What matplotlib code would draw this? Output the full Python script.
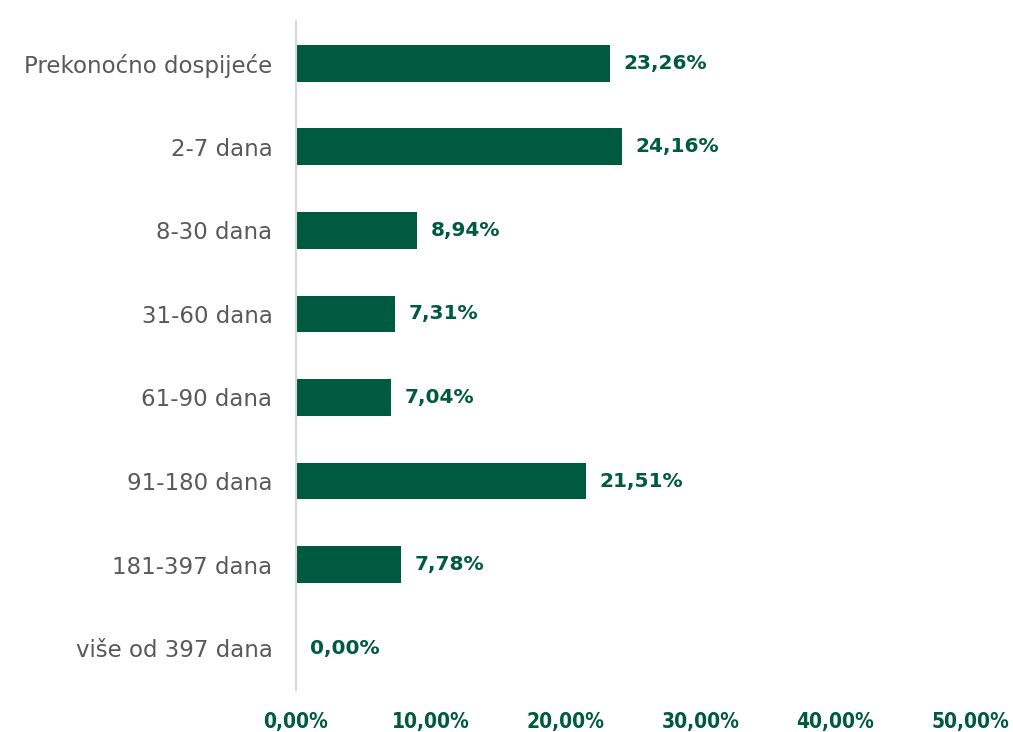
import matplotlib
matplotlib.use("Agg")
import matplotlib.pyplot as plt
from matplotlib.ticker import FuncFormatter

categories = ["Prekonoćno dospijeće", "2-7 dana", "8-30 dana", "31-60 dana",
              "61-90 dana", "91-180 dana", "181-397 dana", "više od 397 dana"]
values = [23.26, 24.16, 8.94, 7.31, 7.04, 21.51, 7.78, 0.00]
xticks = [0, 10, 20, 30, 40, 50]

green = "#005A3E"
gray = "#595959"

plt.rcParams['font.family'] = ['DejaVu Sans']

fig = plt.figure(figsize=(10.13, 7.32), dpi=100)
ax = fig.add_axes([0.2922, 0.0574, 0.6654, 0.9133])

ypos = list(range(len(categories)))
ax.barh(ypos, values, height=0.44, color=green)
ax.set_ylim(len(categories) - 0.5, -0.5)
ax.set_xlim(0, 50)
ax.set_yticks(ypos)
ax.set_yticklabels(categories, fontsize=16.5, color=gray)
ax.set_xticks(xticks)
ax.xaxis.set_major_formatter(FuncFormatter(lambda v, p: f"{v:.2f}%".replace(".", ",")))
for lab in ax.get_xticklabels():
    lab.set_fontweight("bold")
    lab.set_color(green)
    lab.set_fontsize(15)
    lab.set_fontstretch("condensed")
ax.tick_params(axis='x', length=0, pad=16)
ax.tick_params(axis='y', length=0, pad=17)

for s in ["top", "right", "bottom"]:
    ax.spines[s].set_visible(False)
ax.spines["left"].set_color("#D9D9D9")
ax.spines["left"].set_linewidth(1.5)

for y, v in zip(ypos, values):
    ax.annotate(f"{v:.2f}%".replace(".", ","), xy=(v, y), xytext=(10, 0),
                textcoords="offset points", va="center", ha="left",
                fontsize=14.5, fontweight="bold", color=green)

fig.savefig("out.png", dpi=100)
